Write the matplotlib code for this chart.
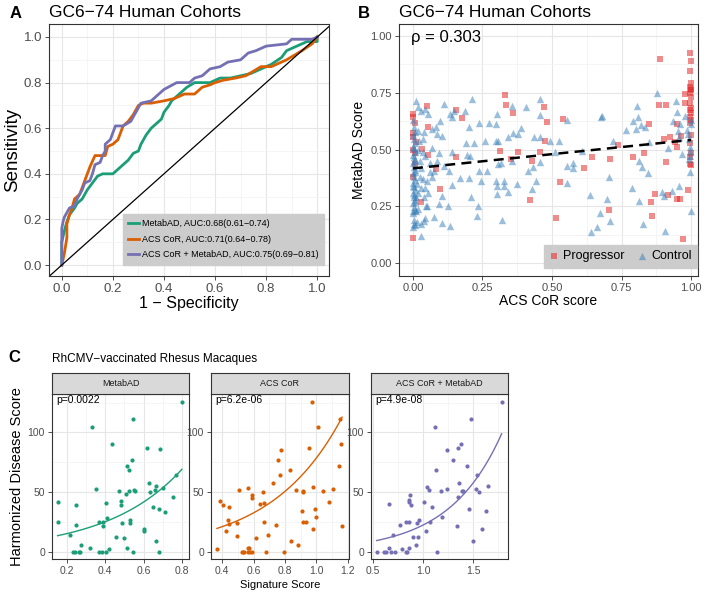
import numpy as np
import matplotlib
matplotlib.use("Agg")
import matplotlib.pyplot as plt
from matplotlib.ticker import MultipleLocator

plt.rcParams['font.family'] = ['Liberation Sans', 'DejaVu Sans']

GREEN, ORANGE, PURPLE = "#1B9E77", "#D95F02", "#7570B3"

# ---- panel A: ROC curves (1 - specificity, sensitivity)
roc_labels = ["MetabAD, AUC:0.68(0.61\u22120.74)",
              "ACS CoR, AUC:0.71(0.64\u22120.78)",
              "ACS CoR + MetabAD, AUC:0.75(0.69\u22120.81)"]
metab_fpr = [0, 0, 0.01, 0.02, 0.03, 0.05, 0.06, 0.08, 0.09, 0.10, 0.12, 0.14, 0.16, 0.20, 0.22, 0.24,
             0.26, 0.28, 0.30, 0.31, 0.33, 0.35, 0.37, 0.39, 0.40, 0.42, 0.43, 0.45, 0.47, 0.49, 0.52,
             0.58, 0.62, 0.66, 0.70, 0.74, 0.78, 0.82, 0.86, 0.88, 0.92, 0.96, 1.0, 1.0]
metab_tpr = [0, 0.10, 0.15, 0.19, 0.22, 0.25, 0.27, 0.29, 0.31, 0.33, 0.36, 0.39, 0.40, 0.40, 0.42, 0.44,
             0.46, 0.49, 0.50, 0.53, 0.57, 0.60, 0.62, 0.64, 0.67, 0.70, 0.72, 0.74, 0.76, 0.78, 0.80,
             0.80, 0.82, 0.82, 0.83, 0.84, 0.86, 0.88, 0.91, 0.94, 0.96, 0.98, 0.98, 1.0]
acs_fpr = [0, 0.01, 0.02, 0.02, 0.03, 0.04, 0.05, 0.07, 0.08, 0.10, 0.11, 0.13, 0.17, 0.18, 0.20, 0.22,
           0.23, 0.24, 0.26, 0.28, 0.30, 0.32, 0.35, 0.40, 0.44, 0.48, 0.52, 0.55, 0.58, 0.60, 0.63,
           0.68, 0.72, 0.75, 0.78, 0.82, 0.88, 0.94, 0.98, 1.0]
acs_tpr = [0, 0.05, 0.12, 0.18, 0.22, 0.25, 0.29, 0.31, 0.34, 0.40, 0.43, 0.48, 0.48, 0.52, 0.53, 0.55,
           0.58, 0.61, 0.63, 0.66, 0.70, 0.71, 0.71, 0.72, 0.73, 0.75, 0.75, 0.78, 0.79, 0.80, 0.81,
           0.82, 0.83, 0.85, 0.87, 0.87, 0.90, 0.94, 0.97, 1.0]
comb_fpr = [0, 0, 0.005, 0.01, 0.02, 0.03, 0.05, 0.06, 0.08, 0.09, 0.11, 0.12, 0.13, 0.15, 0.16, 0.17,
            0.17, 0.19, 0.20, 0.21, 0.24, 0.27, 0.29, 0.31, 0.35, 0.40, 0.45, 0.50, 0.52, 0.55, 0.58,
            0.62, 0.65, 0.70, 0.73, 0.76, 0.80, 0.88, 0.90, 0.98, 1.0]
comb_tpr = [0, 0.16, 0.19, 0.21, 0.23, 0.25, 0.26, 0.29, 0.33, 0.36, 0.37, 0.40, 0.44, 0.45, 0.48, 0.50,
            0.53, 0.55, 0.58, 0.61, 0.61, 0.63, 0.67, 0.71, 0.72, 0.77, 0.80, 0.80, 0.82, 0.83, 0.86,
            0.87, 0.89, 0.90, 0.93, 0.94, 0.96, 0.97, 0.99, 0.99, 1.0]

# ---- panel B: ACS CoR score vs MetabAD score
prog_x = [0.0, 0.002, 0.006, 0.002, 0.0, 0.01, 0.0, 0.006, 0.006, 0.0, 0.0, 0.03, 0.05, 0.054, 0.054,
          0.034, 0.084, 0.096, 0.156, 0.156, 0.175, 0.313, 0.331, 0.335, 0.361, 0.353, 0.379, 0.421,
          0.429, 0.457, 0.472, 0.475, 0.481, 0.529, 0.513, 0.541, 0.616, 0.645, 0.709, 0.705, 0.739,
          0.793, 0.831, 0.856, 0.858, 0.85, 0.869, 0.886, 0.887, 0.904, 0.910, 0.911, 0.916, 0.923,
          0.944, 0.948, 0.95, 0.95, 0.959, 0.964, 0.97, 0.977, 0.977, 0.988,
          0.998, 0.999, 0.998, 0.999, 0.997, 0.999, 1.0, 0.998, 0.999, 0.997, 1.0, 0.998, 0.999,
          0.997, 1.0, 0.998, 0.999, 0.997, 1.0, 0.998, 0.999, 0.997]
prog_y = [0.657, 0.642, 0.616, 0.575, 0.557, 0.532, 0.496, 0.484, 0.435, 0.381, 0.111, 0.271, 0.692,
          0.601, 0.475, 0.501, 0.413, 0.325, 0.674, 0.469, 0.639, 0.495, 0.741, 0.697, 0.659, 0.458,
          0.488, 0.279, 0.448, 0.488, 0.686, 0.536, 0.620, 0.355, 0.197, 0.634, 0.419, 0.468, 0.458,
          0.233, 0.521, 0.466, 0.483, 0.271, 0.208, 0.612, 0.305, 0.698, 0.899, 0.547, 0.695, 0.444,
          0.298, 0.554, 0.535, 0.613, 0.513, 0.282, 0.282, 0.560, 0.106, 0.745, 0.707, 0.323,
          0.927, 0.890, 0.846, 0.795, 0.777, 0.767, 0.762, 0.748, 0.730, 0.704, 0.685, 0.674, 0.660,
          0.645, 0.630, 0.619, 0.565, 0.528, 0.484, 0.469, 0.433, 0.437]
ctrl_x = [0.0, 0.003, 0.006, 0.0, 0.003, 0.006, 0.0, 0.003, 0.006, 0.0, 0.003, 0.006, 0.0, 0.003,
          0.006, 0.0, 0.003, 0.006, 0.0, 0.003, 0.006, 0.0, 0.003, 0.006, 0.0, 0.003, 0.006, 0.0,
          0.003, 0.006, 0.0, 0.003, 0.006, 0.0, 0.003, 0.006, 0.0,
          0.02, 0.02, 0.025, 0.03, 0.015, 0.02, 0.03, 0.025, 0.035, 0.01, 0.02, 0.015, 0.03, 0.045,
          0.055, 0.05, 0.06, 0.045, 0.035, 0.06, 0.05, 0.045,
          0.010, 0.017, 0.030, 0.042, 0.054, 0.110, 0.132, 0.139, 0.147, 0.187, 0.213, 0.201, 0.237,
          0.273, 0.297, 0.096, 0.082, 0.087, 0.103, 0.067, 0.040, 0.022, 0.036, 0.070, 0.094, 0.087,
          0.190, 0.219, 0.258, 0.297, 0.141, 0.195, 0.207, 0.112, 0.129, 0.076, 0.070, 0.141, 0.168,
          0.201, 0.237, 0.267, 0.244, 0.297, 0.208, 0.105, 0.094, 0.127, 0.231, 0.235, 0.076, 0.103,
          0.132, 0.040, 0.046, 0.040, 0.028, 0.004, 0.010,
          0.301, 0.307, 0.307, 0.301, 0.301, 0.328, 0.328, 0.343, 0.319, 0.355, 0.341, 0.361, 0.377,
          0.388, 0.357, 0.317, 0.373, 0.405, 0.415, 0.429, 0.433, 0.441, 0.457, 0.457, 0.436, 0.457,
          0.493, 0.457, 0.511, 0.525, 0.553, 0.553, 0.577, 0.577, 0.553, 0.609, 0.637, 0.640, 0.661,
          0.676, 0.673,
          0.679, 0.706, 0.699, 0.709, 0.718, 0.766, 0.792, 0.789, 0.802, 0.807, 0.810, 0.814, 0.819,
          0.822, 0.814, 0.826, 0.833, 0.846, 0.850, 0.879, 0.895, 0.901, 0.906, 0.918, 0.931, 0.934,
          0.946, 0.948, 0.954, 0.958, 0.958, 0.960, 0.967, 0.978, 0.987, 0.990, 0.994, 0.996, 0.996,
          0.998, 0.994, 0.996, 0.999, 0.999, 0.999]
ctrl_y = [0.630, 0.601, 0.579, 0.565, 0.545, 0.528, 0.513, 0.506, 0.491, 0.477, 0.469, 0.455, 0.440,
          0.425, 0.411, 0.396, 0.381, 0.367, 0.352, 0.337, 0.323, 0.308, 0.293, 0.279, 0.264, 0.249,
          0.235, 0.220, 0.191, 0.169, 0.161, 0.450, 0.400, 0.340, 0.300, 0.270, 0.230,
          0.580, 0.500, 0.450, 0.420, 0.350, 0.310, 0.330, 0.380, 0.370, 0.290, 0.240, 0.180, 0.170,
          0.330, 0.310, 0.360, 0.400, 0.470, 0.490, 0.440, 0.250, 0.200,
          0.712, 0.686, 0.668, 0.678, 0.656, 0.700, 0.656, 0.644, 0.671, 0.668, 0.722, 0.598, 0.615,
          0.615, 0.612, 0.627, 0.598, 0.568, 0.561, 0.589, 0.576, 0.539, 0.546, 0.507, 0.483, 0.451,
          0.527, 0.527, 0.539, 0.539, 0.488, 0.476, 0.473, 0.429, 0.407, 0.407, 0.378, 0.345, 0.374,
          0.374, 0.407, 0.407, 0.363, 0.363, 0.289, 0.297, 0.260, 0.253, 0.208, 0.253, 0.201, 0.175,
          0.165, 0.186, 0.253, 0.289, 0.120, 0.172, 0.230,
          0.656, 0.539, 0.436, 0.341, 0.304, 0.363, 0.341, 0.311, 0.189, 0.693, 0.554, 0.571, 0.568,
          0.595, 0.451, 0.439, 0.348, 0.686, 0.407, 0.326, 0.421, 0.363, 0.722, 0.653, 0.554, 0.554,
          0.539, 0.443, 0.488, 0.536, 0.630, 0.429, 0.439, 0.419, 0.351, 0.495, 0.301, 0.135, 0.157,
          0.644, 0.219,
          0.649, 0.380, 0.282, 0.186, 0.536, 0.586, 0.624, 0.329, 0.590, 0.693, 0.644, 0.451, 0.609,
          0.424, 0.272, 0.172, 0.600, 0.395, 0.532, 0.748, 0.311, 0.297, 0.142, 0.507, 0.316, 0.624,
          0.715, 0.664, 0.580, 0.341, 0.554, 0.612, 0.480, 0.649, 0.586, 0.568, 0.546, 0.510, 0.495,
          0.473, 0.458, 0.400, 0.228, 0.628, 0.612]

# ---- panel C: RhCMV-vaccinated rhesus macaques
facet_names = ["MetabAD", "ACS CoR", "ACS CoR + MetabAD"]
facet_p = ["p=0.0022", "p=6.2e-06", "p=4.9e-08"]
metab_sig = [0.153, 0.157, 0.219, 0.233, 0.245, 0.262, 0.269, 0.247, 0.247, 0.274, 0.323, 0.331, 0.350,
             0.366, 0.385, 0.369, 0.387, 0.388, 0.404, 0.408, 0.406, 0.418, 0.435, 0.454, 0.473, 0.482,
             0.484, 0.487, 0.499, 0.510, 0.511, 0.513, 0.522, 0.525, 0.527, 0.529, 0.541, 0.546, 0.546,
             0.551, 0.556, 0.599, 0.603, 0.617, 0.629, 0.634, 0.648, 0.657, 0.662, 0.662, 0.679, 0.679,
             0.684, 0.701, 0.712, 0.752, 0.765, 0.798]
metab_dis = [25, 41.7, 13.9, 0, 0, 0, 0, 39.4, 22.5, 5.6, 2.8, 104.7, 52.8, 0, 0, 25, 25, 21.7, 40.6,
             28.3, 0, 2.2, 90.6, 12.2, 50.6, 42.5, 39.2, 23.6, 11.7, 48, 72.2, 2.8, 68.6, 50.6, 26.4,
             23.6, 76.7, 111.7, 0, 51.7, 50.8, 18.9, 17.5, 87.2, 57.8, 50, 37.8, 51.7, 55, 8.9, 35.6, 0,
             85.8, 53.6, 33.6, 45.6, 63.9, 125.6]
acs_sig = [0.366, 0.383, 0.402, 0.421, 0.434, 0.440, 0.445, 0.494, 0.496, 0.506, 0.523, 0.530, 0.536,
           0.562, 0.564, 0.570, 0.562, 0.577, 0.587, 0.589, 0.591, 0.617, 0.638, 0.657, 0.668, 0.668,
           0.677, 0.694, 0.723, 0.743, 0.755, 0.768, 0.774, 0.794, 0.830, 0.837, 0.868, 0.881, 0.911,
           0.917, 0.917, 0.917, 0.934, 0.953, 0.974, 0.977, 0.977, 0.991, 0.998, 1.009, 1.045, 1.079,
           1.106, 1.145, 1.151, 1.157, 1.164]
acs_dis = [1.9, 42.8, 38.9, 16.9, 26.7, 37.8, 23.3, 23.9, 12.8, 51.7, 0, 0, 0, 53.6, 2.8, 2.8, 0, 0, 0,
           47.2, 45.3, 11.7, 39.7, 50.3, 40.6, 24.4, 0, 13.9, 57.5, 22.5, 76.7, 63.9, 85.6, 0, 68.6,
           8.6, 51.7, 5.6, 33.9, 50, 50.8, 25, 25, 86.7, 125.6, 54.4, 18.9, 35.6, 28.6, 104.4, 50.6,
           41.7, 52.8, 71.7, 111.7, 90.6, 21.7]
comb_sig = [0.533, 0.603, 0.630, 0.657, 0.660, 0.677, 0.693, 0.720, 0.767, 0.783, 0.827, 0.853, 0.830,
            0.840, 0.853, 0.853, 0.860, 0.867, 0.880, 0.893, 0.923, 0.933, 0.943, 0.960, 1.007, 1.023,
            1.037, 1.053, 1.067, 1.087, 1.117, 1.130, 1.133, 1.173, 1.183, 1.233, 1.240, 1.293, 1.333,
            1.343, 1.347, 1.353, 1.373, 1.383, 1.393, 1.433, 1.453, 1.473, 1.500, 1.527, 1.533, 1.553,
            1.583, 1.623, 1.643, 1.783]
comb_dis = [0, 0, 0, 39.7, 2.8, 0, 13.9, 0, 22.5, 2.2, 25, 25, 0, 0, 2.8, 41.7, 43, 47.5, 38.9, 11.9,
            5.6, 23.9, 11.9, 26.4, 41.7, 16.9, 53.9, 51.7, 25, 37.8, 104.4, 68.6, 0, 50.8, 29.2, 85.6,
            52.8, 76.7, 21.7, 45.6, 86.9, 57.8, 90.6, 50.8, 50.8, 71.7, 35.6, 111.7, 8.9, 52.2, 63.9,
            50, 18.9, 33.9, 54.7, 125.6]
# exponential trend lines: y = exp(intercept + slope * x)
fit_intercept = [2.197, 2.158, 1.206]
fit_slope = [2.553, 2.206, 1.900]

W, H = 709, 597
fig = plt.figure(figsize=(W / 100, H / 100), dpi=100)


def add_ax(l, t, r, b):
    return fig.add_axes([l / W, 1 - b / H, (r - l) / W, (b - t) / H])


def bw(ax, size):
    ax.set_axisbelow(True)
    for s in ax.spines.values():
        s.set_color("#333333")
        s.set_linewidth(0.8)
    ax.grid(True, which="major", color="#e6e6e6", lw=0.8)
    ax.grid(True, which="minor", color="#f2f2f2", lw=0.5)
    ax.tick_params(which="major", length=3, width=0.6, color="#333333",
                   labelsize=size, labelcolor="#4d4d4d", pad=2)
    ax.tick_params(which="minor", length=0)


# ---- panel A
axA = add_ax(49, 24, 329, 276)
axA.plot(metab_fpr, metab_tpr, color=GREEN, lw=2, label=roc_labels[0])
axA.plot(acs_fpr, acs_tpr, color=ORANGE, lw=2, label=roc_labels[1])
axA.plot(comb_fpr, comb_tpr, color=PURPLE, lw=2, label=roc_labels[2])
axA.axline((0, 0), slope=1, color="black", lw=0.9)
axA.set_xlim(-0.05, 1.046)
axA.set_ylim(-0.048, 1.057)
axA.xaxis.set_major_locator(MultipleLocator(0.2))
axA.yaxis.set_major_locator(MultipleLocator(0.2))
axA.xaxis.set_minor_locator(MultipleLocator(0.1))
axA.yaxis.set_minor_locator(MultipleLocator(0.1))
bw(axA, 9.5)
axA.set_xlabel("1 \u2212 Specificity", fontsize=11.5, labelpad=1)
axA.set_ylabel("Sensitivity", fontsize=13.5, labelpad=2)
axA.set_title("GC6\u221274 Human Cohorts", fontsize=12.5, loc="left", pad=5)
leg = axA.legend(loc="lower right", bbox_to_anchor=(0.982, 0.044), borderaxespad=0,
                 fontsize=6.5, handlelength=1.2, handletextpad=0.3, labelspacing=0.75,
                 borderpad=0.6, frameon=True, fancybox=False)
leg.get_frame().set_facecolor("#cccccc")
leg.get_frame().set_edgecolor("#cccccc")
leg.get_frame().set_alpha(1)

# ---- panel B
axB = add_ax(399, 24, 698, 276)
axB.scatter(prog_x, prog_y, marker="s", s=22, color="#E41A1C", alpha=0.5, lw=0, label="Progressor")
axB.scatter(ctrl_x, ctrl_y, marker="^", s=28, color="#377EB8", alpha=0.5, lw=0, label="Control")
all_x = np.array(prog_x + ctrl_x)
all_y = np.array(prog_y + ctrl_y)
k, c0 = np.polyfit(all_x, all_y, 1)
xs = np.array([all_x.min(), all_x.max()])
axB.plot(xs, c0 + k * xs, color="black", lw=1.8, ls=(0, (4, 2.5)))
axB.set_xlim(-0.05, 1.025)
axB.set_ylim(-0.057, 1.053)
axB.xaxis.set_major_locator(MultipleLocator(0.25))
axB.yaxis.set_major_locator(MultipleLocator(0.25))
axB.xaxis.set_minor_locator(MultipleLocator(0.125))
axB.yaxis.set_minor_locator(MultipleLocator(0.125))
axB.xaxis.set_major_formatter(lambda v, p: f"{v:.2f}")
axB.yaxis.set_major_formatter(lambda v, p: f"{v:.2f}")
bw(axB, 8)
axB.set_xlabel("ACS CoR score", fontsize=10, labelpad=1)
axB.set_ylabel("MetabAD Score", fontsize=10, labelpad=3)
axB.set_title("GC6\u221274 Human Cohorts", fontsize=12.5, loc="left", pad=5)
axB.text(0.04, 0.975, "\u03c1 = 0.303", transform=axB.transAxes, fontsize=12, va="top", ha="left")
legB = axB.legend(loc="lower right", bbox_to_anchor=(0.997, 0.032), borderaxespad=0, ncol=2,
                  fontsize=9, handlelength=0.8, handletextpad=0.3, columnspacing=1.0,
                  frameon=True, fancybox=False, borderpad=0.45)
legB.get_frame().set_facecolor("#cccccc")
legB.get_frame().set_edgecolor("#cccccc")
legB.get_frame().set_alpha(1)

# ---- panel C
facet_x = [metab_sig, acs_sig, comb_sig]
facet_y = [metab_dis, acs_dis, comb_dis]
facet_col = [GREEN, ORANGE, PURPLE]
facet_px = [(52, 189), (211, 349), (371, 508)]
facet_xlim = [(0.124, 0.835), (0.328, 1.208), (0.477, 1.847)]
facet_major = [0.2, 0.2, 0.5]
for i in range(3):
    l, r = facet_px[i]
    ax = add_ax(l, 394, r, 559)
    x = np.array(facet_x[i], dtype=float)
    y = np.array(facet_y[i], dtype=float)
    ax.scatter(x, y, s=9, color=facet_col[i], lw=0)
    xx = np.linspace(x.min(), x.max(), 100)
    ax.plot(xx, np.exp(fit_intercept[i] + fit_slope[i] * xx), color=facet_col[i], lw=1)
    ax.set_xlim(*facet_xlim[i])
    ax.set_ylim(-6.3, 132.3)
    ax.xaxis.set_major_locator(MultipleLocator(facet_major[i]))
    ax.xaxis.set_minor_locator(MultipleLocator(facet_major[i] / 2))
    ax.yaxis.set_major_locator(MultipleLocator(50))
    ax.yaxis.set_minor_locator(MultipleLocator(25))
    ax.xaxis.set_major_formatter(lambda v, p: f"{v:.1f}")
    bw(ax, 7.5)
    ax.text(0.03, 0.995, facet_p[i], transform=ax.transAxes, fontsize=7.5, va="top", ha="left")
    strip = add_ax(l, 373, r, 394)
    strip.set_facecolor("#d9d9d9")
    strip.set_xticks([])
    strip.set_yticks([])
    for s in strip.spines.values():
        s.set_color("#333333")
        s.set_linewidth(0.8)
    strip.text(0.5, 0.5, facet_names[i], transform=strip.transAxes, ha="center", va="center",
               fontsize=6.5, color="#1a1a1a")
    if i == 0:
        ax.set_ylabel("Harmonized Disease Score", fontsize=10.5, labelpad=3)

fig.text(280 / W, 1 - 585 / H, "Signature Score", ha="center", va="center", fontsize=8)
fig.text(52 / W, 1 - 359 / H, "RhCMV\u2212vaccinated Rhesus Macaques", ha="left", va="center",
         fontsize=8.5)

fig.text(10 / W, 1 - 13 / H, "A", fontsize=12, weight="bold", va="center")
fig.text(358 / W, 1 - 13 / H, "B", fontsize=12, weight="bold", va="center")
fig.text(8 / W, 1 - 357 / H, "C", fontsize=12, weight="bold", va="center")

fig.savefig("out.png", dpi=100)
